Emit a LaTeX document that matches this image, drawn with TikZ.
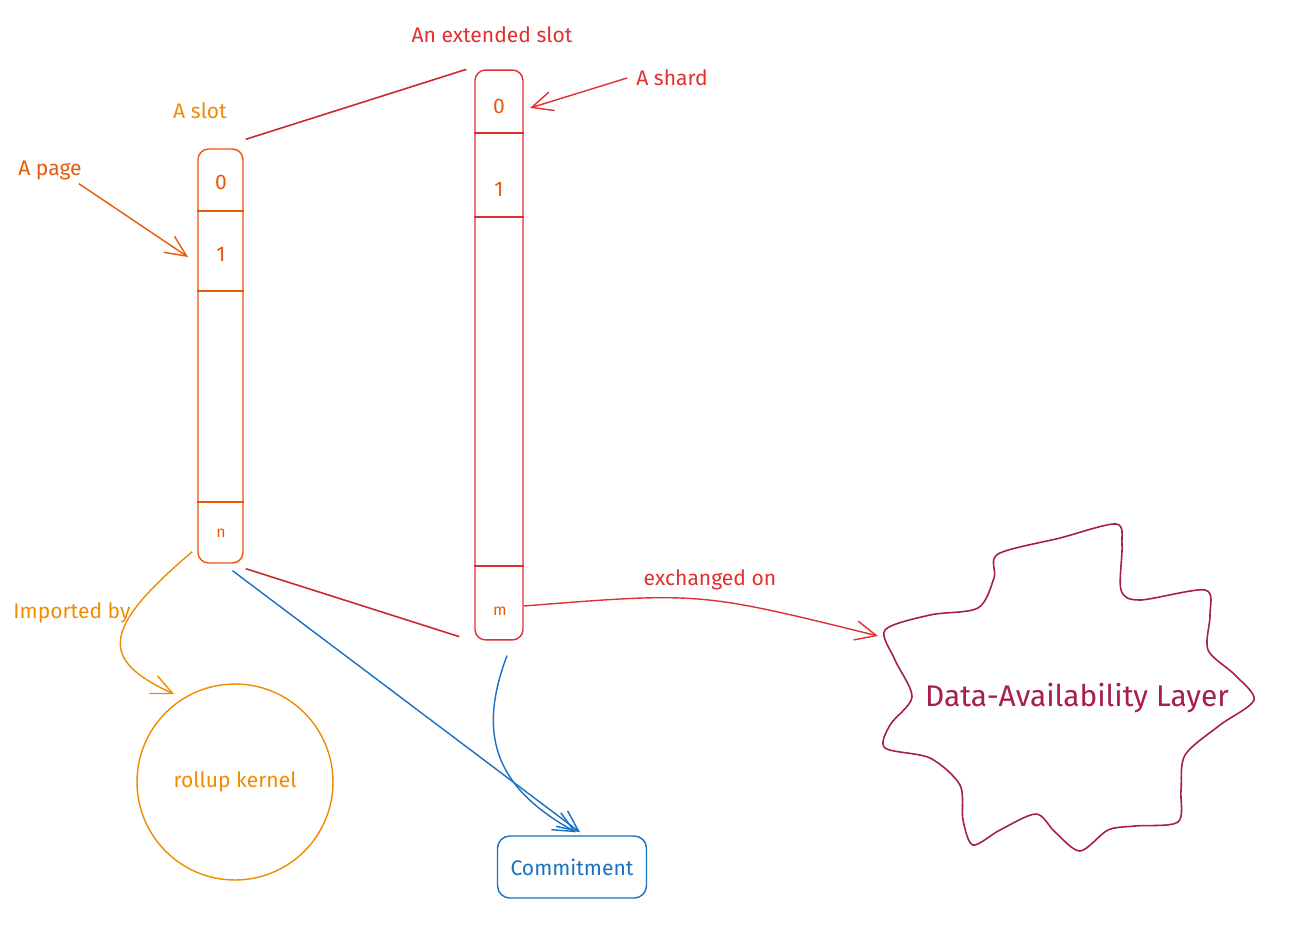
\documentclass[tikz,border=0pt]{standalone}
\usepackage{fontspec}
\setmainfont{Fira Sans}
\usetikzlibrary{arrows.meta,positioning,calc}
\definecolor{cOrange}{HTML}{E8590C}
\definecolor{cAmber}{HTML}{F08C00}
\definecolor{cRed}{HTML}{E03131}
\definecolor{cDarkRed}{HTML}{C92A2A}
\definecolor{cBlue}{HTML}{1971C2}
\definecolor{cWine}{HTML}{A61E4D}
\tikzset{
  lbl/.style={font=\fontsize{12}{14}\selectfont,inner sep=1pt},
  cellnum/.style={lbl,text=cOrange},
  slotbox/.style={rectangle,rounded corners=6pt,draw,line width=0.8pt},
  sketcharr/.style={-{Straight Barb[length=12pt,width=11pt]},line width=0.8pt},
  zoomline/.style={line width=0.9pt,color=cDarkRed}
}

\begin{document}
\begin{tikzpicture}[x=0.02cm,y=-0.02cm]
  \fill[white] (0,0) rectangle (1293,945);
  \useasboundingbox (0,0) rectangle (1293,945);

  % the slot and its pages
  \node[slotbox,draw=cOrange,minimum width=0.9cm,minimum height=8.28cm] (slot) at (220.5,356) {};
  \foreach \yy in {211,291,502}
    \draw[cOrange,line width=0.8pt] (slot.west |- 0,\yy) -- (slot.east |- 0,\yy);
  \node[cellnum] (page0) at (221,182) {0};
  \node[cellnum] (page1) at (221,254) {1};
  \node[cellnum,font=\fontsize{9}{11}\selectfont] (pagen) at (221,533) {n};

  % the extended slot and its shards
  \node[slotbox,draw=cRed,minimum width=0.96cm,minimum height=11.4cm] (xslot) at (499,355) {};
  \foreach \yy in {133,217,566}
    \draw[cRed,line width=0.8pt] (xslot.west |- 0,\yy) -- (xslot.east |- 0,\yy);
  \node[cellnum] (shard0) at (499,106) {0};
  \node[cellnum] (shard1) at (499,189) {1};
  \node[cellnum,font=\fontsize{9}{11}\selectfont] (shardm) at (500,611) {m};

  % labels
  \node[lbl,text=cAmber] (lblslot) at (200,111) {A slot};
  \node[lbl,text=cOrange] (lblpage) at (50,170) {A page};
  \node[lbl,text=cRed] (lblxslot) at (492,35) {An extended slot};
  \node[lbl,text=cRed] (lblshard) at (672,78) {A shard};
  \node[lbl,text=cRed] (lblexch) at (710,580) {exchanged on};
  \node[lbl,text=cAmber] (lblimp) at (72,613) {Imported by};

  \node[circle,draw=cAmber,line width=0.8pt,minimum size=3.92cm,lbl,text=cAmber] (kernel) at (235,782) {rollup kernel};
  \node[rectangle,rounded corners=7pt,draw=cBlue,line width=0.8pt,minimum width=2.98cm,minimum height=1.24cm,lbl,text=cBlue] (commit) at (572,867) {Commitment};

  % data-availability cloud
  \node[font=\fontsize{17}{20}\selectfont,text=cWine] (dal) at (1077,698) {Data-Availability Layer};
  \draw[cWine,line width=0.9pt] plot[smooth cycle,tension=0.5] coordinates {
    (998,554) (1060,538) (1116,524) (1122,545) (1121,590) (1140,600) (1205,590)
    (1210,615) (1208,650) (1235,675) (1254,700) (1220,725) (1185,755) (1181,790)
    (1178,822) (1135,826) (1108,830) (1080,851) (1055,832) (1036,814) (1000,830)
    (973,845) (963,820) (960,785) (930,758) (885,748) (890,725) (912,697)
    (895,660) (885,630) (930,615) (978,608) (994,578)};
  \coordinate (dalin) at (878,636);

  % zoom lines between slot and extended slot
  \draw[zoomline] ($(slot.north east)+(2,-9)$) -- ($(xslot.north west)+(-8,0)$);
  \draw[zoomline] ($(slot.south east)+(2,5)$) -- ($(xslot.south west)+(-15,-4)$);

  % arrows
  \coordinate (pagetip) at (188,257);
  \coordinate (shardtip) at (530,108);
  \draw[sketcharr,cOrange] (lblpage.south east) ++(-5,2) -- (pagetip);
  \draw[sketcharr,cRed] (lblshard.west) ++(-7,0) -- (shardtip);
  \draw[sketcharr,cRed] (shardm.east) ++(15,-5) .. controls (700,592) .. (dalin);
  \draw[sketcharr,cAmber] ($(slot.south west)+(-5,-12)$) .. controls (100,630) and (100,660) .. ($(kernel.north west)+(9,-18)$);
  \draw[sketcharr,cBlue] ($(slot.south)+(12,7)$) -- ($(commit.north)+(8,-3)$);
  \draw[sketcharr,cBlue] ($(xslot.south)+(8,15)$) .. controls (475,740) and (500,790) .. ($(commit.north)+(4,-3)$);
\end{tikzpicture}
\end{document}
